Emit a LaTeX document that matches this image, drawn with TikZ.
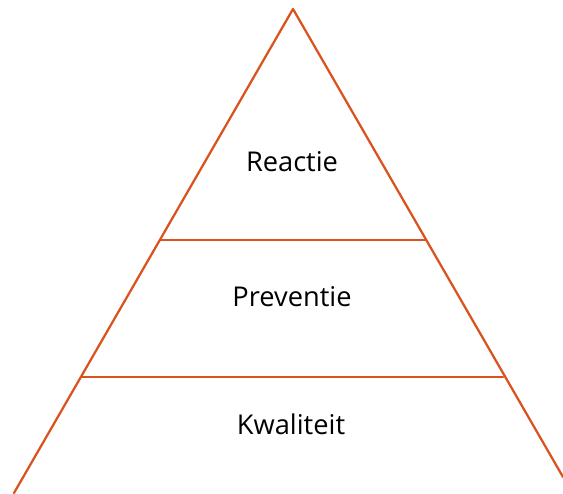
\documentclass[tikz,border=0pt]{standalone}
\usepackage{fontspec}
\setmainfont{Open Sans}
\definecolor{pyramidorange}{RGB}{218,82,30}
\begin{document}
\begin{tikzpicture}[
		x=0.02cm,
		y=-0.02cm,
		line width=0.045cm,
		line cap=round,
		line join=round,
		lbl/.style={font=\fontsize{15.5}{18}\selectfont}
		]
		\useasboundingbox (0,0) rectangle (563,493);
		\coordinate (top) at (293,9);
		\coordinate (bl) at (14,493);
		\coordinate (br) at (563,477);
		\begin{scope}[pyramidorange]
		\draw (bl) -- (top) -- (br);
		\draw (160,240) -- (425,240);
		\draw (81,377) -- (503,377);
		\end{scope}
		\node[lbl] (reactie) at (292,162) {Reactie};
		\node[lbl] (preventie) at (292,297) {Preventie};
		\node[lbl] (kwaliteit) at (291,424) {Kwaliteit};
		\end{tikzpicture}
\end{document}
